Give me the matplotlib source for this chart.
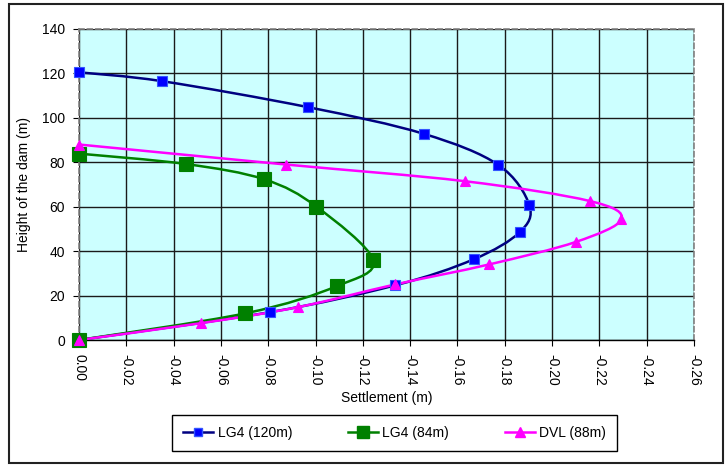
import numpy as np
import matplotlib
matplotlib.use("Agg")
import matplotlib.pyplot as plt
from matplotlib.path import Path
from matplotlib.patches import PathPatch, Rectangle
from matplotlib.lines import Line2D

plt.rcParams['font.family'] = ['Liberation Sans', 'DejaVu Sans']
plt.rcParams['axes.unicode_minus'] = False

# ---- data ----
lg120_x = [0.0, -0.0352, -0.0969, -0.1458, -0.1773, -0.1904, -0.1863, -0.1668, -0.1336, -0.0806, 0.0]
lg120_y = [120.5, 116.5, 104.8, 92.8, 78.8, 60.6, 48.5, 36.3, 24.6, 12.5, 0.0]

lg84_x = [0.0, -0.0453, -0.0784, -0.1004, -0.1244, -0.1091, -0.0703, 0.0]
lg84_y = [83.9, 79.2, 72.3, 60.0, 35.9, 24.3, 12.0, 0.0]

dvl_x = [0.0, -0.0874, -0.1630, -0.2162, -0.2293, -0.2102, -0.1733, -0.1336, -0.0926, -0.0517, 0.0]
dvl_y = [88.0, 79.0, 71.5, 62.5, 54.3, 44.2, 34.0, 25.0, 14.8, 7.6, 0.0]

x_ticks = [0.0, -0.02, -0.04, -0.06, -0.08, -0.10, -0.12, -0.14, -0.16, -0.18, -0.20, -0.22, -0.24, -0.26]
x_tick_labels = ['0.00', '-0.02', '-0.04', '-0.06', '-0.08', '-0.10', '-0.12', '-0.14',
                 '-0.16', '-0.18', '-0.20', '-0.22', '-0.24', '-0.26']
y_ticks = [0, 20, 40, 60, 80, 100, 120, 140]

series = [
    dict(x=lg120_x, y=lg120_y, label='LG4 (120m)', lc='#000080', mc='#0000FF', mec='#3355FF', marker='s', ms=7),
    dict(x=lg84_x, y=lg84_y, label='LG4 (84m)', lc='#008000', mc='#008000', mec='#008000', marker='s', ms=9.5),
    dict(x=dvl_x, y=dvl_y, label='DVL (88m)', lc='#FF00FF', mc='#FF00FF', mec='#FF00FF', marker='^', ms=7.5),
]

W, H = 725, 472
fig = plt.figure(figsize=(W / 100, H / 100), dpi=100)

# outer frame
fig.patches.append(Rectangle((9 / W, 1 - 463 / H), 714 / W, 459 / H, transform=fig.transFigure,
                             fill=False, edgecolor='#222222', linewidth=1.5))

ax = fig.add_axes([79 / W, 1 - 340 / H, 615 / W, 311 / H])
ax.set_facecolor('#CCFFFF')
ax.set_xlim(0, -0.26)
ax.set_ylim(0, 140)
ax.set_xticks(x_ticks)
ax.set_xticklabels(x_tick_labels, rotation=-90, fontsize=10)
ax.set_yticks(y_ticks)
ax.tick_params(axis='y', labelsize=10, length=4, direction='out', pad=6)
ax.tick_params(axis='x', length=4, direction='out', pad=6)
ax.grid(True, color='#1a1a1a', linewidth=1.0)
ax.set_axisbelow(True)
for s in ['top', 'right', 'left']:
    ax.spines[s].set_color('#808080')
    ax.spines[s].set_linestyle((0, (3, 2)))
    ax.spines[s].set_linewidth(1.2)
ax.spines['bottom'].set_color('black')
ax.spines['bottom'].set_linewidth(1.0)

ax.set_xlabel('Settlement (m)', fontsize=10, labelpad=4)
ax.set_ylabel('Height of the dam (m)', fontsize=10, labelpad=8)

fig.canvas.draw()


def smooth_path(xs, ys):
    pts = ax.transData.transform(np.column_stack([xs, ys]))
    n = len(pts)
    verts = [pts[0]]
    codes = [Path.MOVETO]
    for i in range(n - 1):
        p0 = pts[i - 1] if i > 0 else pts[i]
        p1 = pts[i]
        p2 = pts[i + 1]
        p3 = pts[i + 2] if i + 2 < n else pts[i + 1]
        c1 = p1 + (p2 - p0) / 6.0
        c2 = p2 - (p3 - p1) / 6.0
        verts += [c1, c2, p2]
        codes += [Path.CURVE4] * 3
    return Path(verts, codes)


handles = []
for s in series:
    patch = PathPatch(smooth_path(s['x'], s['y']), transform=None, fill=False,
                      edgecolor=s['lc'], linewidth=1.8, zorder=3)
    patch.set_clip_path(ax.patch)
    ax.add_artist(patch)
    ax.plot(s['x'], s['y'], linestyle='none', marker=s['marker'], markersize=s['ms'],
            markerfacecolor=s['mc'], markeredgecolor=s['mec'], markeredgewidth=0.8,
            zorder=4, clip_on=False)
    handles.append(Line2D([], [], color=s['lc'], linewidth=1.8, marker=s['marker'],
                          markersize=s['ms'] * 0.9, markerfacecolor=s['mc'],
                          markeredgecolor=s['mec'], label=s['label']))

leg = fig.legend(handles=handles, loc='center', bbox_to_anchor=(394.5 / W, 1 - 433 / H), ncol=3,
                 fontsize=10, frameon=True, fancybox=False, edgecolor='black',
                 handlelength=2.2, columnspacing=4.0, handletextpad=0.3,
                 borderpad=0.8, framealpha=1)
leg.get_frame().set_linewidth(1.0)

fig.savefig('out.png', dpi=100)
